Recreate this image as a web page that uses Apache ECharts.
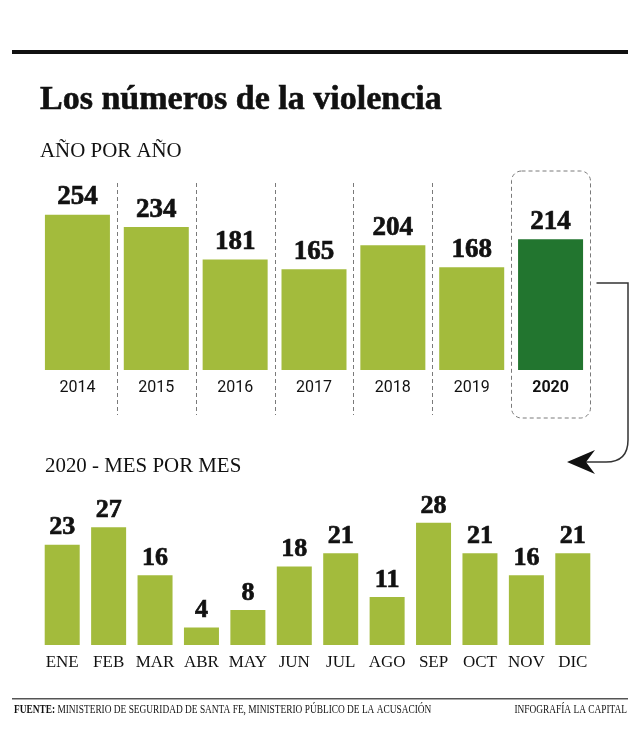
<!DOCTYPE html>
<html>
<head>
<meta charset="utf-8">
<script src="https://cdn.jsdelivr.net/npm/echarts@6/dist/echarts.min.js"></script>
<style>
html, body { margin: 0; padding: 0; background: #fff; }
#chart { width: 642px; height: 748px; }
</style>
</head>
<body>
<div id="chart"></div>
<script>
// datos
var years = ['2014', '2015', '2016', '2017', '2018', '2019', '2020'];
var yearTotals = [254, 234, 181, 165, 204, 168, 214];
var months = ['ENE', 'FEB', 'MAR', 'ABR', 'MAY', 'JUN', 'JUL', 'AGO', 'SEP', 'OCT', 'NOV', 'DIC'];
var monthTotals = [23, 27, 16, 4, 8, 18, 21, 11, 28, 21, 16, 21];

var LIGHT = '#a3bb3c';
var DARK = '#22752f';
var INK = '#111111';
var DASH = '#7a7a7a';

var chart = echarts.init(document.getElementById('chart'));

var last = years.length - 1;
var yearLabels = years.map(function (y, i) {
  if (i === last) return { value: y, textStyle: { fontWeight: 'bold', fontFamily: 'Roboto', fontSize: 16 } };
  return y;
});

var valueLabel = {
  show: true, position: 'top', distance: 4,
  fontFamily: 'Liberation Serif', fontWeight: 'bold', fontSize: 27, color: INK,
  textBorderColor: INK, textBorderWidth: 0.7
};

var option = {
  animation: false,
  grid: [
    { left: 38, right: 52, top: 180, bottom: 378 },
    { left: 39, right: 46, top: 501, bottom: 103 }
  ],
  xAxis: [
    {
      gridIndex: 0, type: 'category', data: yearLabels,
      axisLine: { show: false }, axisTick: { show: false },
      axisLabel: { margin: 10, fontSize: 16, color: INK, fontFamily: 'Roboto', interval: 0 }
    },
    {
      gridIndex: 1, type: 'category', data: months,
      axisLine: { show: false }, axisTick: { show: false },
      axisLabel: { margin: 9, fontSize: 17, color: INK, fontFamily: 'Liberation Serif', interval: 0 }
    }
  ],
  yAxis: [
    { gridIndex: 0, type: 'value', min: 0, max: 311, show: false },
    { gridIndex: 1, type: 'value', min: 0, max: 33, show: false }
  ],
  series: [
    {
      type: 'bar', xAxisIndex: 0, yAxisIndex: 0, data: yearTotals, barWidth: 65,
      itemStyle: {
        color: function (p) { return p.dataIndex === last ? DARK : LIGHT; }
      },
      label: valueLabel
    },
    {
      type: 'bar', xAxisIndex: 1, yAxisIndex: 1, data: monthTotals, barWidth: 35,
      itemStyle: { color: LIGHT },
      label: Object.assign({}, valueLabel, { fontSize: 26 })
    }
  ]
};
chart.setOption(option);

// separadores y recuadro a partir del eje
var c0 = chart.convertToPixel({ xAxisIndex: 0 }, years[0]);
var c1 = chart.convertToPixel({ xAxisIndex: 0 }, years[1]);
var band = c1 - c0;
var graphics = [];

for (var i = 0; i < last - 1; i++) {
  var bx = Math.round(c0 + band * (i + 0.5)) + 0.5;
  graphics.push({
    type: 'line', silent: true,
    shape: { x1: bx, y1: 183, x2: bx, y2: 415 },
    style: { stroke: DASH, lineWidth: 1, lineDash: [4, 3] }
  });
}
var boxL = Math.round(c0 + band * (last - 0.5)) + 0.5;
var boxR = Math.round(c0 + band * (last + 0.5)) + 0.5;
graphics.push({
  type: 'rect', silent: true,
  shape: { x: boxL, y: 171, width: boxR - boxL, height: 247, r: 10 },
  style: { fill: null, stroke: DASH, lineWidth: 1, lineDash: [4, 3] }
});

// flecha hacia el gráfico mensual
graphics.push({
  type: 'polyline', silent: true,
  shape: { points: [[boxR + 6, 283], [628, 283], [628, 440]] },
  style: { stroke: '#333', lineWidth: 1.5, fill: null }
});
graphics.push({
  type: 'bezierCurve', silent: true,
  shape: { x1: 628, y1: 440, cpx1: 628, cpy1: 462, x2: 606, y2: 462 },
  style: { stroke: '#333', lineWidth: 1.5, fill: null }
});
graphics.push({
  type: 'line', silent: true,
  shape: { x1: 606, y1: 462, x2: 586, y2: 462 },
  style: { stroke: '#333', lineWidth: 1.5 }
});
graphics.push({
  type: 'polygon', silent: true,
  shape: { points: [[567, 462], [595, 450], [586, 462], [595, 474]] },
  style: { fill: '#111' }
});

// textos y reglas
graphics.push(
  { type: 'rect', shape: { x: 12, y: 50, width: 616, height: 4 }, style: { fill: '#111' } },
  {
    type: 'text', x: 40, y: 100,
    style: {
      text: 'Los números de la violencia', font: 'bold 34px "Liberation Serif"', fill: INK,
      verticalAlign: 'middle', stroke: INK, lineWidth: 0.6
    }
  },
  {
    type: 'text', x: 40, y: 151, scaleX: 0.95,
    style: { text: 'AÑO POR AÑO', font: '22px "Liberation Serif"', fill: INK, verticalAlign: 'middle' }
  },
  {
    type: 'text', x: 45, y: 466, scaleX: 0.95,
    style: { text: '2020 - MES POR MES', font: '22px "Liberation Serif"', fill: INK, verticalAlign: 'middle' }
  },
  { type: 'rect', shape: { x: 12, y: 698, width: 616, height: 1.5 }, style: { fill: '#555' } },
  {
    type: 'text', x: 14, y: 710, scaleX: 0.78,
    style: {
      text: '{b|FUENTE:} MINISTERIO DE SEGURIDAD DE SANTA FE, MINISTERIO PÚBLICO DE LA ACUSACIÓN',
      font: '12px "Liberation Serif"', fill: INK, verticalAlign: 'middle',
      rich: { b: { fontWeight: 'bold', fontSize: 12, fontFamily: 'Liberation Serif', fill: INK } }
    }
  },
  {
    type: 'text', x: 627, y: 710, scaleX: 0.78,
    style: { text: 'INFOGRAFÍA LA CAPITAL', font: '12px "Liberation Serif"', fill: INK, align: 'right', verticalAlign: 'middle' }
  }
);

chart.setOption({ graphic: graphics });
</script>
</body>
</html>
